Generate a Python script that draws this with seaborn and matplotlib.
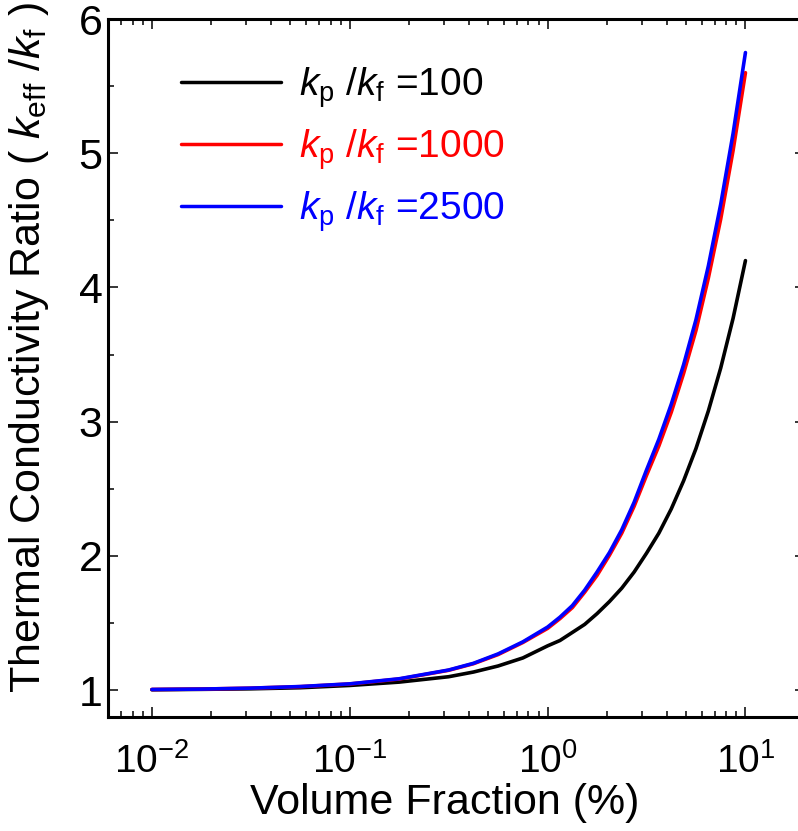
import numpy as np
import pandas as pd
import matplotlib
matplotlib.use("Agg")
import matplotlib.pyplot as plt
import seaborn as sns
from matplotlib.ticker import LogLocator, MultipleLocator, FixedLocator

# ---- data ----
volume_fraction = [0.01, 0.0178, 0.0316, 0.0562, 0.1, 0.178, 0.316, 0.422,
                   0.562, 0.750, 1.0, 1.155, 1.334, 1.540, 1.778, 2.054,
                   2.371, 2.738, 3.162, 3.652, 4.217, 4.870, 5.623, 6.494,
                   7.499, 8.660, 10.0]
ratio_100 = [1.003, 1.006, 1.010, 1.018, 1.035, 1.060, 1.100, 1.135,
             1.180, 1.240, 1.330, 1.370, 1.430, 1.490, 1.570, 1.660,
             1.760, 1.880, 2.020, 2.170, 2.350, 2.560, 2.800, 3.080,
             3.400, 3.770, 4.200]
ratio_1000 = [1.005, 1.008, 1.015, 1.026, 1.046, 1.083, 1.148, 1.197,
              1.265, 1.355, 1.460, 1.533, 1.615, 1.730, 1.855, 2.005,
              2.170, 2.370, 2.600, 2.820, 3.070, 3.360, 3.680, 4.070,
              4.510, 5.020, 5.600]
ratio_2500 = [1.005, 1.008, 1.015, 1.027, 1.047, 1.085, 1.150, 1.200,
              1.270, 1.360, 1.470, 1.544, 1.630, 1.745, 1.880, 2.025,
              2.195, 2.400, 2.640, 2.870, 3.130, 3.425, 3.760, 4.160,
              4.620, 5.147, 5.750]
series_labels = [r"$\mathit{k}_{\mathrm{p}}$ /$\mathit{k}_{\mathrm{f}}$ =100",
                 r"$\mathit{k}_{\mathrm{p}}$ /$\mathit{k}_{\mathrm{f}}$ =1000",
                 r"$\mathit{k}_{\mathrm{p}}$ /$\mathit{k}_{\mathrm{f}}$ =2500"]
series_colors = ["#000000", "#ff0000", "#0000ff"]
y_ticks = [1, 2, 3, 4, 5, 6]
x_ticks = [0.01, 0.1, 1, 10]
x_label = "Volume Fraction (%)"
y_label = r"Thermal Conductivity Ratio ( $\mathit{k}_{\mathrm{eff}}$ /$\mathit{k}_{\mathrm{f}}$ )"

df = pd.concat([
    pd.DataFrame({"vf": volume_fraction, "ratio": vals, "series": lab})
    for vals, lab in zip([ratio_100, ratio_1000, ratio_2500], series_labels)
], ignore_index=True)

sns.set_theme(style="ticks")
plt.rcParams["font.family"] = ["Liberation Sans", "DejaVu Sans"]
plt.rcParams["mathtext.fontset"] = "custom"
plt.rcParams["mathtext.rm"] = "Liberation Sans"
plt.rcParams["mathtext.it"] = "Liberation Sans:italic"
plt.rcParams["mathtext.sf"] = "Liberation Sans"
plt.rcParams["axes.unicode_minus"] = True
plt.rcParams["text.color"] = "black"
plt.rcParams["axes.labelcolor"] = "black"
plt.rcParams["xtick.color"] = "black"
plt.rcParams["ytick.color"] = "black"

fig = plt.figure(figsize=(7.98, 8.31), dpi=100)
ax = fig.add_axes([108 / 798, 1 - 717 / 831, (805 - 108) / 798, (717 - 19) / 831])

sns.lineplot(data=df, x="vf", y="ratio", hue="series", hue_order=series_labels,
             palette=series_colors, linewidth=2.6, ax=ax, sort=False)

ax.set_xscale("log")
ax.set_xlim(0.006, 20)
ax.set_ylim(0.8, 6)
ax.xaxis.set_major_locator(FixedLocator(x_ticks))
ax.xaxis.set_minor_locator(LogLocator(base=10, subs=np.arange(2, 10)))
ax.yaxis.set_major_locator(FixedLocator(y_ticks))
ax.yaxis.set_minor_locator(MultipleLocator(0.5))
ax.set_yticklabels([str(v) for v in y_ticks])

for sp in ax.spines.values():
    sp.set_linewidth(2.2)
    sp.set_color("black")

ax.tick_params(which="both", direction="in", top=True, right=True, colors="black")
ax.tick_params(which="major", length=7.5, width=1.1)
ax.tick_params(which="minor", length=4, width=1.1)
ax.tick_params(axis="x", which="major", labelsize=28, pad=19)
ax.tick_params(axis="y", which="major", labelsize=31, pad=4)

ax.set_xlabel(x_label, fontsize=31, color="black")
ax.xaxis.set_label_coords((445 - 108) / 697, -0.094)
ax.set_ylabel(y_label, fontsize=31, color="black",
              fontfamily=["Liberation Sans Narrow", "Liberation Sans"])
ax.yaxis.set_label_coords(-0.082, 0.53)

sns.move_legend(ax, "upper left", bbox_to_anchor=(0.105, 0.934), frameon=False,
                title=None, fontsize=28, handlelength=2.57, handletextpad=0.46,
                labelspacing=0.45, borderaxespad=0, borderpad=0)
leg = ax.get_legend()
for txt, col in zip(leg.get_texts(), series_colors):
    txt.set_color(col)
for h in leg.legend_handles:
    h.set_linewidth(2.5)

fig.savefig("out.png", dpi=100)
